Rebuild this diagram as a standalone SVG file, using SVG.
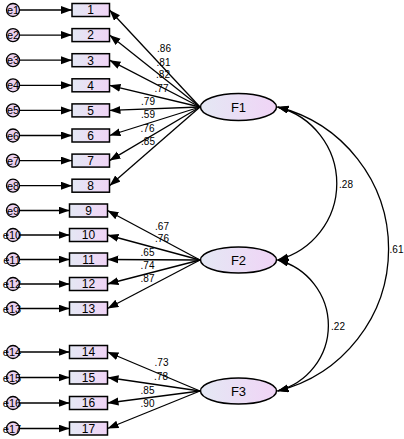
<svg xmlns="http://www.w3.org/2000/svg" width="404" height="439" viewBox="0 0 404 439">
<defs>
<linearGradient id="g" x1="0" y1="0" x2="1" y2="0">
<stop offset="0" stop-color="#e4e8f4"/>
<stop offset="1" stop-color="#f0d4f6"/>
</linearGradient>
<marker id="ah" markerUnits="userSpaceOnUse" markerWidth="12" markerHeight="9" refX="11" refY="4" orient="auto-start-reverse">
<path d="M0,0 L11,4 L0,8 z" fill="#000"/>
</marker>
<style>
.box{fill:url(#g);stroke:#000;stroke-width:1.5}
.lat{fill:url(#g);stroke:#000;stroke-width:1.5}
.err{fill:#ead0ee;stroke:#000;stroke-width:1.3}
.t{font-family:"Liberation Sans",Arial,sans-serif;font-size:12px;text-anchor:middle;fill:#000}
.ft{font-family:"Liberation Sans",Arial,sans-serif;font-size:13px;text-anchor:middle;fill:#000}
.et{font-family:"Liberation Sans",Arial,sans-serif;font-size:11px;text-anchor:middle;fill:#000}
.lb{font-family:"Liberation Sans",Arial,sans-serif;font-size:10px;text-anchor:middle;fill:#000}
.ln{stroke:#000;stroke-width:1.3;fill:none;marker-end:url(#ah)}
.cv{stroke:#000;stroke-width:1.3;fill:none;marker-start:url(#ah);marker-end:url(#ah)}
</style>
</defs>
<g id="connectors">
<line class="ln" x1="19.5" y1="10" x2="72" y2="10"/>
<line class="ln" x1="19.5" y1="35.1" x2="72" y2="35.1"/>
<line class="ln" x1="19.5" y1="60.2" x2="72" y2="60.2"/>
<line class="ln" x1="19.5" y1="85.3" x2="72" y2="85.3"/>
<line class="ln" x1="19.5" y1="110.4" x2="72" y2="110.4"/>
<line class="ln" x1="19.5" y1="135.5" x2="72" y2="135.5"/>
<line class="ln" x1="19.5" y1="160.6" x2="72" y2="160.6"/>
<line class="ln" x1="19.5" y1="185.7" x2="72" y2="185.7"/>
<line class="ln" x1="19.5" y1="210.5" x2="69.5" y2="210.5"/>
<line class="ln" x1="19.5" y1="235" x2="69.5" y2="235"/>
<line class="ln" x1="19.5" y1="259.5" x2="69.5" y2="259.5"/>
<line class="ln" x1="19.5" y1="284" x2="69.5" y2="284"/>
<line class="ln" x1="19.5" y1="308.5" x2="69.5" y2="308.5"/>
<line class="ln" x1="19.5" y1="352" x2="69.5" y2="352"/>
<line class="ln" x1="19.5" y1="377.5" x2="69.5" y2="377.5"/>
<line class="ln" x1="19.5" y1="403" x2="69.5" y2="403"/>
<line class="ln" x1="19.5" y1="428.5" x2="69.5" y2="428.5"/>
<line class="ln" x1="200" y1="107" x2="109.5" y2="10"/>
<line class="ln" x1="200" y1="107" x2="109.5" y2="35.1"/>
<line class="ln" x1="200" y1="107" x2="109.5" y2="60.2"/>
<line class="ln" x1="200" y1="107" x2="109.5" y2="85.3"/>
<line class="ln" x1="200" y1="107" x2="109.5" y2="110.4"/>
<line class="ln" x1="200" y1="107" x2="109.5" y2="135.5"/>
<line class="ln" x1="200" y1="107" x2="109.5" y2="160.6"/>
<line class="ln" x1="200" y1="107" x2="109.5" y2="185.7"/>
<line class="ln" x1="200" y1="260" x2="107.5" y2="210.5"/>
<line class="ln" x1="200" y1="260" x2="107.5" y2="235"/>
<line class="ln" x1="200" y1="260" x2="107.5" y2="259.5"/>
<line class="ln" x1="200" y1="260" x2="107.5" y2="284"/>
<line class="ln" x1="200" y1="260" x2="107.5" y2="308.5"/>
<line class="ln" x1="200" y1="391" x2="107.5" y2="352"/>
<line class="ln" x1="200" y1="391" x2="107.5" y2="377.5"/>
<line class="ln" x1="200" y1="391" x2="107.5" y2="403"/>
<line class="ln" x1="200" y1="391" x2="107.5" y2="428.5"/>
<path class="cv" d="M277.5,107 A79,79 0 0 1 277.5,260"/>
<path class="cv" d="M277.5,107 A146.3,146.3 0 0 1 277.5,391"/>
<path class="cv" d="M277.5,260 A67.6,67.6 0 0 1 277.5,391"/>
<text class="lb" x="164" y="51.5">.86</text>
<text class="lb" x="163.5" y="65.5">.81</text>
<text class="lb" x="163" y="77.5">.82</text>
<text class="lb" x="161.5" y="91.5">.77</text>
<text class="lb" x="148" y="104.5">.79</text>
<text class="lb" x="148" y="117.5">.59</text>
<text class="lb" x="147.5" y="131.5">.76</text>
<text class="lb" x="148" y="144.5">.85</text>
<text class="lb" x="162" y="229.5">.67</text>
<text class="lb" x="162" y="241.5">.76</text>
<text class="lb" x="147.5" y="255.5">.65</text>
<text class="lb" x="147.5" y="268.5">.74</text>
<text class="lb" x="147.5" y="281.5">.87</text>
<text class="lb" x="161.5" y="365.5">.73</text>
<text class="lb" x="161" y="379.5">.78</text>
<text class="lb" x="147.5" y="393.5">.85</text>
<text class="lb" x="147.5" y="406.5">.90</text>
<text class="lb" x="346" y="187.5">.28</text>
<text class="lb" x="396.5" y="252.5">.61</text>
<text class="lb" x="338" y="329.5">.22</text>
</g>
<g id="e1"><circle class="err" cx="13" cy="10" r="6.5"/><text class="et" x="13" y="14">e1</text></g>
<g id="e2"><circle class="err" cx="13" cy="35.1" r="6.5"/><text class="et" x="13" y="39.1">e2</text></g>
<g id="e3"><circle class="err" cx="13" cy="60.2" r="6.5"/><text class="et" x="13" y="64.2">e3</text></g>
<g id="e4"><circle class="err" cx="13" cy="85.3" r="6.5"/><text class="et" x="13" y="89.3">e4</text></g>
<g id="e5"><circle class="err" cx="13" cy="110.4" r="6.5"/><text class="et" x="13" y="114.4">e5</text></g>
<g id="e6"><circle class="err" cx="13" cy="135.5" r="6.5"/><text class="et" x="13" y="139.5">e6</text></g>
<g id="e7"><circle class="err" cx="13" cy="160.6" r="6.5"/><text class="et" x="13" y="164.6">e7</text></g>
<g id="e8"><circle class="err" cx="13" cy="185.7" r="6.5"/><text class="et" x="13" y="189.7">e8</text></g>
<g id="e9"><circle class="err" cx="13" cy="210.5" r="6.5"/><text class="et" x="13" y="214.5">e9</text></g>
<g id="e10"><circle class="err" cx="13" cy="235" r="6.5"/><text class="et" x="12" y="239">e10</text></g>
<g id="e11"><circle class="err" cx="13" cy="259.5" r="6.5"/><text class="et" x="12" y="263.5">e11</text></g>
<g id="e12"><circle class="err" cx="13" cy="284" r="6.5"/><text class="et" x="12" y="288">e12</text></g>
<g id="e13"><circle class="err" cx="13" cy="308.5" r="6.5"/><text class="et" x="12" y="312.5">e13</text></g>
<g id="e14"><circle class="err" cx="13" cy="352" r="6.5"/><text class="et" x="12" y="356">e14</text></g>
<g id="e15"><circle class="err" cx="13" cy="377.5" r="6.5"/><text class="et" x="12" y="381.5">e15</text></g>
<g id="e16"><circle class="err" cx="13" cy="403" r="6.5"/><text class="et" x="12" y="407">e16</text></g>
<g id="e17"><circle class="err" cx="13" cy="428.5" r="6.5"/><text class="et" x="12" y="432.5">e17</text></g>
<g id="v1"><rect class="box" x="72" y="3.5" width="37.5" height="13"/><text class="t" x="90.5" y="14.3">1</text></g>
<g id="v2"><rect class="box" x="72" y="28.6" width="37.5" height="13"/><text class="t" x="90.5" y="39.4">2</text></g>
<g id="v3"><rect class="box" x="72" y="53.7" width="37.5" height="13"/><text class="t" x="90.5" y="64.5">3</text></g>
<g id="v4"><rect class="box" x="72" y="78.8" width="37.5" height="13"/><text class="t" x="90.5" y="89.6">4</text></g>
<g id="v5"><rect class="box" x="72" y="103.9" width="37.5" height="13"/><text class="t" x="90.5" y="114.7">5</text></g>
<g id="v6"><rect class="box" x="72" y="129" width="37.5" height="13"/><text class="t" x="90.5" y="139.8">6</text></g>
<g id="v7"><rect class="box" x="72" y="154.1" width="37.5" height="13"/><text class="t" x="90.5" y="164.9">7</text></g>
<g id="v8"><rect class="box" x="72" y="179.2" width="37.5" height="13"/><text class="t" x="90.5" y="190">8</text></g>
<g id="v9"><rect class="box" x="69.5" y="204" width="38" height="13"/><text class="t" x="88.5" y="214.8">9</text></g>
<g id="v10"><rect class="box" x="69.5" y="228.5" width="38" height="13"/><text class="t" x="88.5" y="239.3">10</text></g>
<g id="v11"><rect class="box" x="69.5" y="253" width="38" height="13"/><text class="t" x="88.5" y="263.8">11</text></g>
<g id="v12"><rect class="box" x="69.5" y="277.5" width="38" height="13"/><text class="t" x="88.5" y="288.3">12</text></g>
<g id="v13"><rect class="box" x="69.5" y="302" width="38" height="13"/><text class="t" x="88.5" y="312.8">13</text></g>
<g id="v14"><rect class="box" x="69.5" y="345.5" width="38" height="13"/><text class="t" x="88.5" y="356.3">14</text></g>
<g id="v15"><rect class="box" x="69.5" y="371" width="38" height="13"/><text class="t" x="88.5" y="381.8">15</text></g>
<g id="v16"><rect class="box" x="69.5" y="396.5" width="38" height="13"/><text class="t" x="88.5" y="407.3">16</text></g>
<g id="v17"><rect class="box" x="69.5" y="422" width="38" height="13"/><text class="t" x="88.5" y="432.8">17</text></g>
<g id="F1"><ellipse class="lat" cx="238.5" cy="107" rx="38" ry="13.5"/><text class="ft" x="238.5" y="111.5">F1</text></g>
<g id="F2"><ellipse class="lat" cx="238.5" cy="260" rx="38" ry="13"/><text class="ft" x="238.5" y="264.5">F2</text></g>
<g id="F3"><ellipse class="lat" cx="238.5" cy="391" rx="38" ry="13"/><text class="ft" x="238.5" y="395.5">F3</text></g>
</svg>
